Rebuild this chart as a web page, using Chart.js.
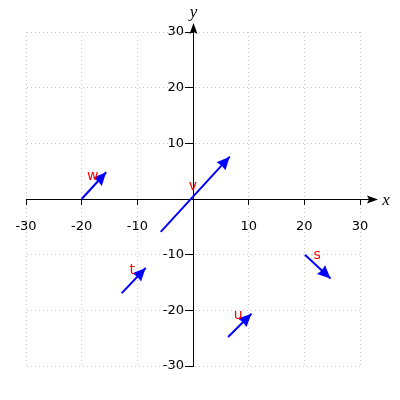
<!DOCTYPE html>
<html>
<head>
<meta charset="utf-8">
<script src="https://cdn.jsdelivr.net/npm/chart.js@4"></script>
<style>
  html, body { margin: 0; padding: 0; background: #fff; }
  #wrap { width: 400px; height: 400px; }
</style>
</head>
<body>
<div id="wrap"><canvas id="vectorChart" width="400" height="400"></canvas></div>
<script>
// vectors: start point, end point (tip) and where the name sits
const names = ['w', 'v', 't', 'u', 's'];
const startX = [-20, -5.8, -12.8, 6.3, 20.1];
const startY = [0, -5.9, -16.9, -24.8, -10];
const endX = [-15.6, 6.6, -8.5, 10.5, 24.7];
const endY = [4.8, 7.6, -12.4, -20.6, -14.3];
const labelX = [-18, 0, -10.9, 8.1, 22.3];
const labelY = [4, 2.3, -12.8, -20.9, -10.2];

const axisMin = -30;
const axisMax = 30;
const tickStep = 10;

const datasets = names.map((n, i) => ({
  label: n,
  data: [{ x: startX[i], y: startY[i] }, { x: endX[i], y: endY[i] }],
  showLine: true,
  borderColor: '#0000ff',
  borderWidth: 2,
  pointRadius: 0,
  borderCapStyle: 'butt'
}));

function arrowHead(ctx, tx, ty, ang, len, half, notch) {
  ctx.save();
  ctx.translate(tx, ty);
  ctx.rotate(ang);
  ctx.beginPath();
  ctx.moveTo(0, 0);
  ctx.lineTo(-len, -half);
  ctx.lineTo(-len + notch, 0);
  ctx.lineTo(-len, half);
  ctx.closePath();
  ctx.fill();
  ctx.restore();
}

const arrowPlugin = {
  id: 'arrows',
  // put the y axis through x = 0 (labels keep their padding this way)
  afterLayout(chart) {
    const ys = chart.scales.y;
    ys.right = chart.scales.x.getPixelForValue(0);
    ys.left = ys.right - 60;
  },
  afterDatasetsDraw(chart) {
    const { ctx, scales: { x, y } } = chart;
    ctx.save();

    // axis extensions with arrow tips
    const ox = Math.round(x.getPixelForValue(0)) + 0.5;
    const oy = Math.round(y.getPixelForValue(0)) + 0.5;
    const xEnd = x.right + 18;
    const yEnd = y.top - 9;
    ctx.strokeStyle = '#000';
    ctx.fillStyle = '#000';
    ctx.lineWidth = 1;
    ctx.beginPath();
    ctx.moveTo(x.right, oy);
    ctx.lineTo(xEnd - 4, oy);
    ctx.moveTo(ox, y.top);
    ctx.lineTo(ox, yEnd + 4);
    ctx.stroke();
    arrowHead(ctx, xEnd, oy, 0, 11, 4, 2);
    arrowHead(ctx, ox, yEnd, -Math.PI / 2, 11, 4, 2);

    ctx.font = 'italic 17px "Liberation Serif"';
    ctx.textAlign = 'center';
    ctx.textBaseline = 'middle';
    ctx.fillText('x', xEnd + 8, oy + 1);
    ctx.fillText('y', ox, yEnd - 10);

    // vector heads and names
    names.forEach((n, i) => {
      const x1 = x.getPixelForValue(startX[i]);
      const y1 = y.getPixelForValue(startY[i]);
      const x2 = x.getPixelForValue(endX[i]);
      const y2 = y.getPixelForValue(endY[i]);
      const ang = Math.atan2(y2 - y1, x2 - x1);
      ctx.fillStyle = '#0000ff';
      arrowHead(ctx, x2, y2, ang, 13, 6, 1);

      ctx.fillStyle = '#ff0000';
      ctx.font = '14px "DejaVu Sans"';
      ctx.fillText(n, x.getPixelForValue(labelX[i]), y.getPixelForValue(labelY[i]));
    });
    ctx.restore();
  }
};

const tickFont = { family: 'DejaVu Sans', size: 13 };
const gridColor = c => (c.tick && c.tick.value === 0 ? 'rgba(0,0,0,0)' : '#c8c8c8');

new Chart(document.getElementById('vectorChart').getContext('2d'), {
  type: 'scatter',
  data: { datasets: datasets },
  options: {
    responsive: false,
    animation: false,
    layout: { padding: { left: 26, right: 40, top: 32, bottom: 34 } },
    plugins: {
      legend: { display: false },
      tooltip: { enabled: false }
    },
    scales: {
      x: {
        type: 'linear',
        min: axisMin,
        max: axisMax,
        position: { y: 0 },
        afterFit(s) { s.height = 0; },
        ticks: {
          stepSize: tickStep,
          autoSkip: false,
          maxRotation: 0,
          padding: 15,
          color: '#000',
          font: tickFont,
          callback: v => (v === 0 ? '' : v)
        },
        grid: { color: gridColor, lineWidth: 1, tickColor: '#000', tickLength: 5, tickWidth: 1 },
        border: { display: true, color: '#000', width: 1, dash: [1, 3] }
      },
      y: {
        type: 'linear',
        min: axisMin,
        max: axisMax,
        position: 'left',
        afterFit(s) { s.width = 0; },
        ticks: {
          stepSize: tickStep,
          autoSkip: false,
          padding: 1,
          color: '#000',
          font: tickFont,
          callback: v => (v === 0 ? '' : v)
        },
        grid: { color: gridColor, lineWidth: 1, tickColor: '#000', tickLength: 8, tickWidth: 1 },
        border: { display: true, color: '#000', width: 1, dash: [1, 3] }
      }
    }
  },
  plugins: [arrowPlugin]
});
</script>
</body>
</html>
